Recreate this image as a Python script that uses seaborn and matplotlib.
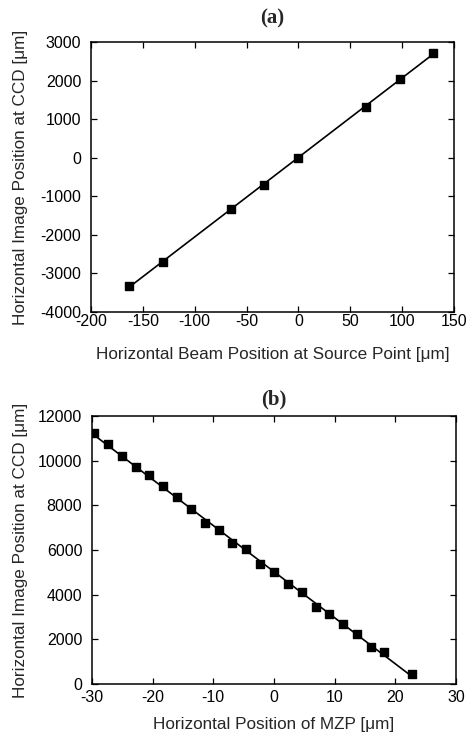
import matplotlib
matplotlib.use("Agg")
import matplotlib.pyplot as plt
import seaborn as sns
import numpy as np

# panel (a): beam position at source vs image position at CCD
beam_x = [-163, -131, -65, -33, 0, 65, 98, 130]
image_a = [-3320, -2700, -1330, -700, 0, 1320, 2030, 2720]

# panel (b): MZP position vs image position at CCD
mzp_x = [-29.7, -27.4, -25.1, -22.8, -20.6, -18.3, -16.0, -13.7, -11.4, -9.1,
         -6.9, -4.6, -2.3, 0.0, 2.3, 4.6, 6.9, 9.1, 11.4, 13.7, 16.0, 18.2, 22.8]
image_b = [11250, 10730, 10210, 9690, 9370, 8870, 8370, 7820, 7200, 6900,
           6330, 6030, 5360, 5020, 4480, 4110, 3460, 3150, 2670, 2240, 1670, 1450, 460]

sns.set_style("ticks")
plt.rcParams['font.family'] = ['Liberation Sans', 'DejaVu Sans']
plt.rcParams['axes.unicode_minus'] = False

fig = plt.figure(figsize=(4.68, 7.36), dpi=100)
ax1 = fig.add_axes([0.1944, 0.576, 0.7756, 0.367])
ax2 = fig.add_axes([0.1966, 0.0707, 0.7774, 0.3643])

def style(ax, xpad):
    for s in ax.spines.values():
        s.set_color("black")
        s.set_linewidth(1.1)
    ax.tick_params(direction="in", top=True, right=True, length=4,
                   width=0.9, labelsize=11.5, colors="black")
    ax.tick_params(axis="y", pad=7)
    ax.tick_params(axis="x", pad=xpad)

sns.regplot(x=beam_x, y=image_a, ax=ax1, ci=None, marker="s", color="black",
            scatter_kws={"s": 28, "alpha": 1}, line_kws={"lw": 1.2})
ax1.set_xlim(-200, 150)
ax1.set_ylim(-4000, 3000)
ax1.set_xticks(np.arange(-200, 151, 50))
ax1.set_yticks(np.arange(-4000, 3001, 1000))
ax1.set_xlabel("Horizontal Beam Position at Source Point [\u03bcm]", fontsize=12.3, labelpad=13)
ax1.set_ylabel("Horizontal Image Position at CCD [\u03bcm]", fontsize=12.3, labelpad=9)
ax1.set_title("(a)", fontsize=15, fontweight="bold", family="Liberation Serif", pad=13)
style(ax1, 1.5)

sns.regplot(x=mzp_x, y=image_b, ax=ax2, ci=None, marker="s", color="black",
            scatter_kws={"s": 28, "alpha": 1}, line_kws={"lw": 1.2})
ax2.set_xlim(-30, 30)
ax2.set_ylim(0, 12000)
ax2.set_xticks(np.arange(-30, 31, 10))
ax2.set_yticks(np.arange(0, 12001, 2000))
ax2.set_xlabel("Horizontal Position of MZP [\u03bcm]", fontsize=12.3, labelpad=9)
ax2.set_ylabel("Horizontal Image Position at CCD [\u03bcm]", fontsize=12.3, labelpad=7)
ax2.set_title("(b)", fontsize=15, fontweight="bold", family="Liberation Serif", pad=8)
style(ax2, 4)

fig.savefig("out.png", dpi=100)
